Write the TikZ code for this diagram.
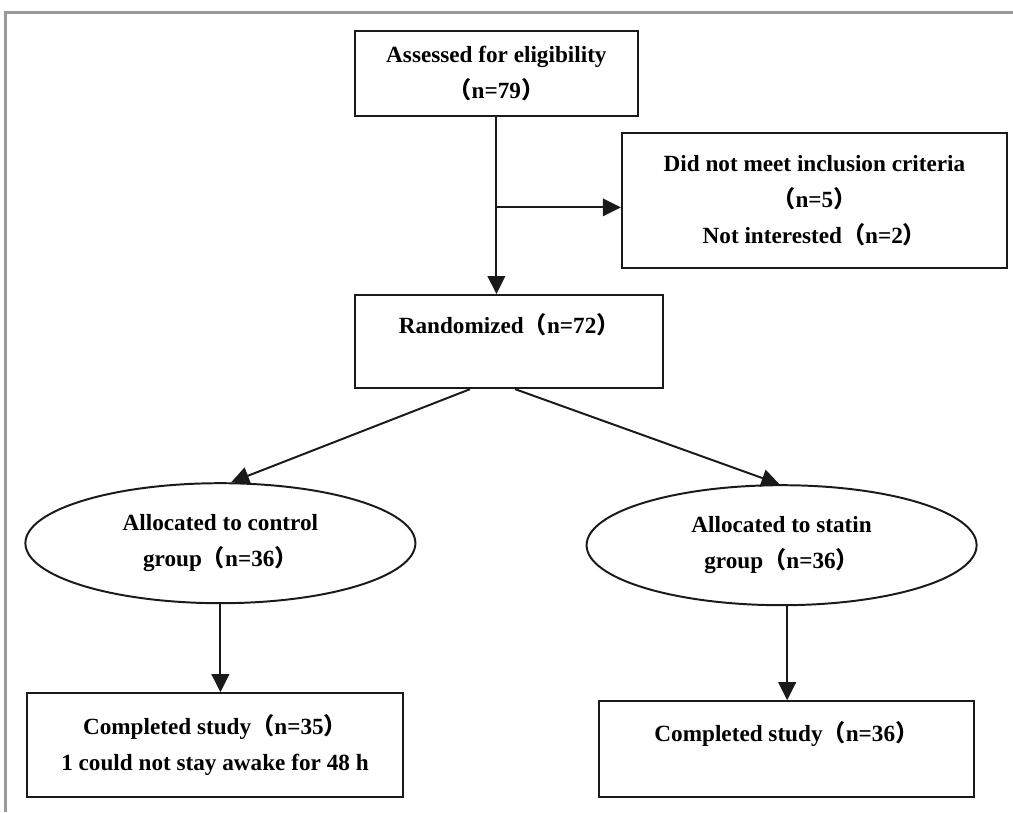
\documentclass[tikz,border=0pt]{standalone}
\usepackage{fontspec}
\setmainfont{Liberation Serif}
\newfontfamily\cjkfont{Noto Sans CJK SC}
\usetikzlibrary{arrows.meta, shapes.geometric, positioning, calc}
\definecolor{framegray}{HTML}{9A9A9A}
\definecolor{inkline}{HTML}{1A1A1A}
\newcommand{\flp}{{\cjkfont （}}
\newcommand{\frp}{{\cjkfont ）}}

\begin{document}
\begin{tikzpicture}[
    flowbox/.style={draw=inkline, line width=1.4pt, align=center, inner sep=2pt,
      font=\fontsize{16.5}{25.5}\selectfont\bfseries},
    groupoval/.style={flowbox, ellipse, minimum width=9.75cm, minimum height=3cm,
      inner sep=0pt},
    flowarrow/.style={-{Triangle[length=4.5mm,width=4.4mm]}, line width=1.4pt, draw=inkline}
  ]
  % page: 1013 x 812 px at 0.025 cm per px
  \useasboundingbox (0,0) rectangle (25.325,-20.3);
  \draw[framegray, line width=0.075cm] (0.125,-20.3) -- (0.125,-0.31) -- (25.325,-0.31);

  % Boxes
  \node[flowbox, minimum width=7.08cm, minimum height=2.13cm] (assess) at (12.41,-1.84)
    {Assessed for eligibility\\\flp n=79\frp};
  \node[flowbox, minimum width=9.63cm, minimum height=3.38cm] (excl) at (20.36,-5.01)
    {Did not meet inclusion criteria\\\flp n=5\frp\\Not interested\flp n=2\frp};
  \node[flowbox, minimum width=7.7cm, minimum height=2.33cm] (rand) at (12.73,-8.54)
    {Randomized\flp n=72\frp\\\mbox{}};
  \node[groupoval] (ctrl) at (5.51,-13.58)
    {Allocated to control\\group\flp n=36\frp};
  \node[groupoval] (stat) at (19.54,-13.63)
    {Allocated to statin\\group\flp n=36\frp};
  \node[flowbox, minimum width=9.4cm, minimum height=2.6cm] (done1) at (5.375,-18.63)
    {Completed study\flp n=35\frp\\1 could not stay awake for 48 h};
  \node[flowbox, minimum width=9.38cm, minimum height=2.4cm] (done2) at (19.66,-18.73)
    {Completed study\flp n=36\frp\\\mbox{}};

  % Connectors
  \draw[flowarrow] (assess.south) -- (assess.south |- rand.north);
  \coordinate (split) at ($(assess.south)!0.51!(assess.south |- rand.north)$);
  \draw[flowarrow] (split) -- (split -| excl.west);
  \draw[flowarrow] ([xshift=-0.98cm]rand.south) -- (ctrl.80);
  \draw[flowarrow] ([xshift=0.15cm]rand.south) -- (stat.92);
  \draw[flowarrow] (ctrl.south) -- (ctrl.south |- done1.north);
  \draw[flowarrow] ([xshift=0.14cm]stat.south) -- ([xshift=0.14cm]stat.south |- done2.north);
\end{tikzpicture}
\end{document}
